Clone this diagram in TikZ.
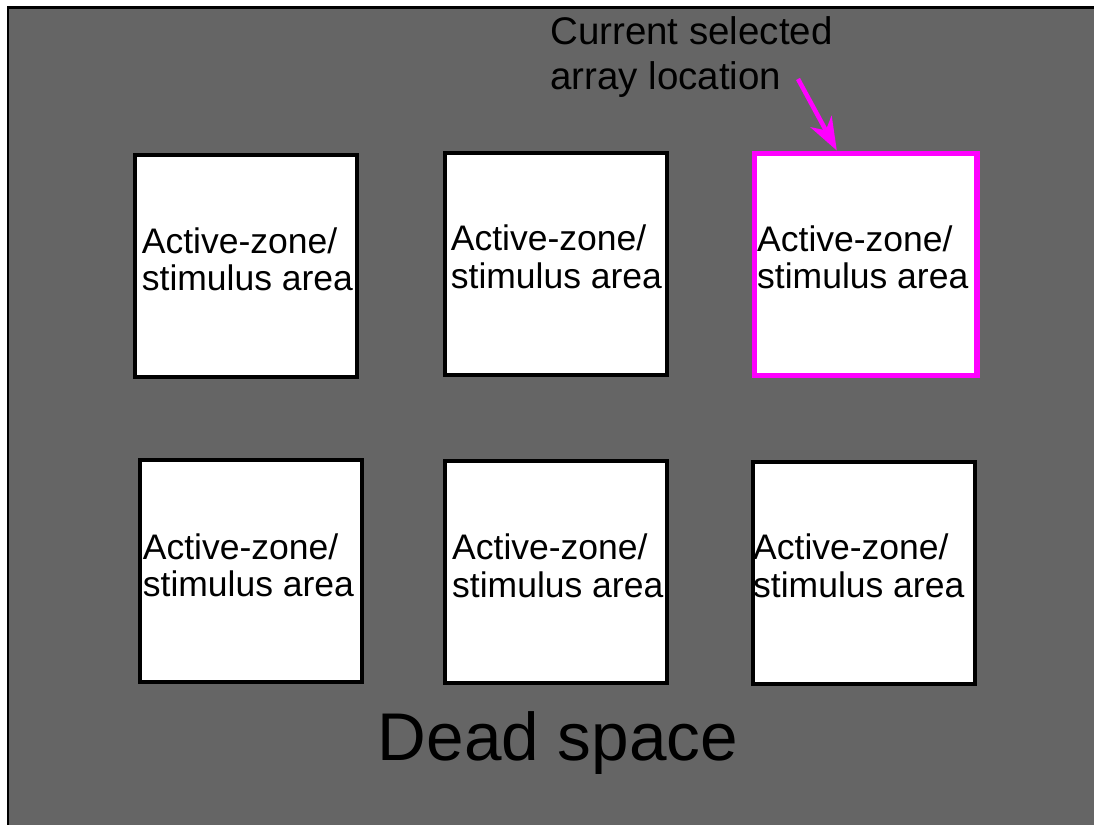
\documentclass[tikz,border=0pt]{standalone}
\usepackage{fontspec}
\setmainfont{Liberation Sans}
\usetikzlibrary{arrows.meta}

\definecolor{deadgray}{HTML}{656565}
\definecolor{selpink}{HTML}{FF00FF}

\tikzset{
  zone/.style={draw, line width=4pt, fill=white, minimum width=222.5pt, minimum height=222pt, inner sep=0pt},
  zonetext/.style={anchor=west, align=left, inner sep=0pt, font=\fontsize{35.5}{37.5}\selectfont},
}

\begin{document}
\begin{tikzpicture}[x=1pt, y=-1pt]
\path[use as bounding box, clip] (0,0) rectangle (1094,824);
\draw[fill=deadgray, line width=2.5pt] (8,7.5) rectangle (1110,840);

% array of stimulus sites
\node[zone] at (246,265.5) (z1) {};
\node[zone] at (556,263.8) (z2) {};
\node[zone, draw=selpink, line width=5.5pt] at (865.8,264.3) (z3) {};
\node[zone] at (251,571.3) (z4) {};
\node[zone] at (556,571.7) (z5) {};
\node[zone] at (864,573) (z6) {};

\node[zonetext] at (141.7,259.5) (t1) {Active-zone/\\stimulus area};
\node[zonetext] at (450.7,257) (t2) {Active-zone/\\stimulus area};
\node[zonetext] at (757,257.5) (t3) {Active-zone/\\stimulus area};
\node[zonetext] at (142.7,565.5) (t4) {Active-zone/\\stimulus area};
\node[zonetext] at (452,566) (t5) {Active-zone/\\stimulus area};
\node[zonetext] at (753,566) (t6) {Active-zone/\\stimulus area};

% pointer to the selected site
\node[anchor=north west, align=left, inner sep=0pt, font=\fontsize{38.5}{45}\selectfont] at (550,16) (cur) {Current selected\\array location};
\coordinate (curtail) at (798,79);
\draw[-{Stealth[length=33pt, width=24pt, inset=10pt]}, selpink, line width=4.5pt] (curtail) -- ([xshift=-29pt]z3.north);

\node[anchor=base, inner sep=0pt, font=\fontsize{67.5}{70}\selectfont] at (558,760) (dead) {Dead space};
\end{tikzpicture}
\end{document}
